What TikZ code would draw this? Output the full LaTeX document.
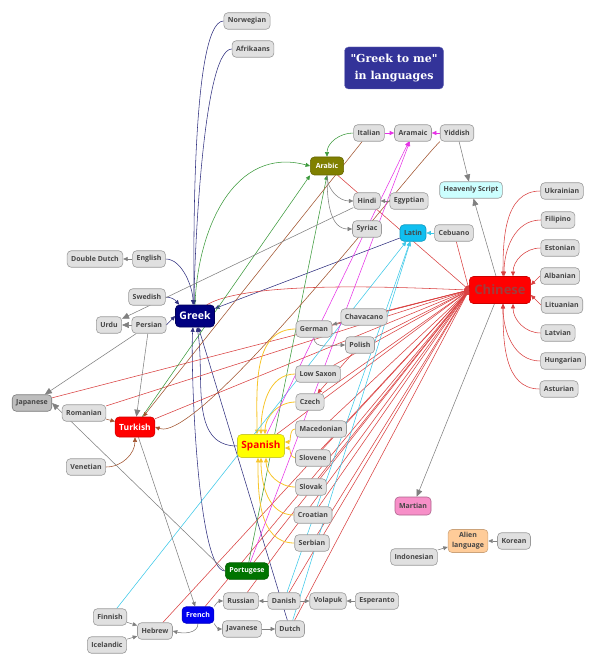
\documentclass[tikz,border=0pt]{standalone}
\usepackage{fontspec}
\setmainfont{Open Sans}
\newfontfamily\titlefont{DejaVu Serif}
\usetikzlibrary{arrows.meta,backgrounds,positioning}

\definecolor{langfill}{HTML}{E0E0E0}
\definecolor{langdraw}{HTML}{9A9A9A}
\definecolor{langtext}{HTML}{454545}
\definecolor{japfill}{HTML}{BDBDBD}
\definecolor{titlefill}{HTML}{333399}
\definecolor{greekfill}{HTML}{000080}
\definecolor{chinafill}{HTML}{FF0000}
\definecolor{chinatext}{HTML}{A03C3C}
\definecolor{spanfill}{HTML}{FFFF00}
\definecolor{arabfill}{HTML}{808000}
\definecolor{latinfill}{HTML}{11BFF0}
\definecolor{portfill}{HTML}{007400}
\definecolor{frenchfill}{HTML}{0000F0}
\definecolor{heavfill}{HTML}{CCFFFF}
\definecolor{marsfill}{HTML}{F78FC8}
\definecolor{alienfill}{HTML}{FFCC99}
\definecolor{navyline}{HTML}{30307F}
\definecolor{redline}{HTML}{D94040}
\definecolor{greenline}{HTML}{3C9A3C}
\definecolor{brownline}{HTML}{A0522D}
\definecolor{goldline}{HTML}{F7C52B}
\definecolor{cyanline}{HTML}{3CC8E8}
\definecolor{magline}{HTML}{E632E6}
\definecolor{greyline}{HTML}{808080}

\tikzset{
  lang/.style={draw=langdraw, fill=langfill, text=langtext, rounded corners=4pt,
    font=\bfseries\fontsize{7}{8.5}\selectfont, inner xsep=4pt, inner ysep=1pt,
    minimum height=16.5pt, line width=0.6pt},
  hub/.style={lang, text=white},
  titlebox/.style={draw=titlefill!70!white, fill=titlefill, text=white, rounded corners=4pt,
    font=\titlefont\bfseries\fontsize{11}{17}\selectfont, align=center,
    minimum width=99pt, minimum height=42pt, inner sep=2pt},
  link/.style={-{Triangle[length=4.5pt,width=4pt]}, line width=0.55pt},
  navylink/.style={link, draw=navyline},
  redlink/.style={link, draw=redline},
  greenlink/.style={link, draw=greenline},
  brownlink/.style={link, draw=brownline},
  goldlink/.style={link, draw=goldline, line width=0.8pt},
  cyanlink/.style={link, draw=cyanline},
  maglink/.style={link, draw=magline},
  greylink/.style={link, draw=greyline},
  bigtip/.style={-{Triangle[length=7pt,width=6pt]}}
}

\begin{document}
\begin{tikzpicture}[x=1pt, y=-1pt]
\useasboundingbox (0,0) rectangle (600,668);

% title
\node[titlebox] (ttl) at (394,68) {"Greek to me"\\in languages};

% main languages
\node[hub, fill=greekfill, draw=greekfill!70!black, font=\bfseries\fontsize{10.5}{12}\selectfont, minimum height=22pt] (greek) at (195,316) {Greek};
\node[hub, fill=chinafill, draw=chinafill!80!black, text=chinatext, font=\bfseries\fontsize{13}{15}\selectfont, minimum height=27pt, inner xsep=5pt] (china) at (500,290) {Chinese};
\node[hub, fill=spanfill, draw=spanfill!60!gray, text=red, font=\bfseries\fontsize{10}{12}\selectfont, minimum height=23pt] (span) at (261,446) {Spanish};
\node[hub, fill=chinafill, draw=chinafill!80!black, font=\bfseries\fontsize{8.5}{10}\selectfont, minimum height=20pt] (turk) at (135,427) {Turkish};
\node[hub, fill=arabfill, draw=arabfill!80!black, minimum height=18pt, inner xsep=5.5pt] (arab) at (327,166) {Arabic};
\node[lang, fill=latinfill, draw=latinfill!80!black, text=langtext] (latin) at (413,233) {Latin};
\node[hub, fill=portfill, draw=portfill!80!black] (port) at (247,571) {Portugese};
\node[hub, fill=frenchfill, draw=frenchfill!80!black] (french) at (198,615) {French};
\node[lang, fill=heavfill, draw=langdraw] (heav) at (471,190) {Heavenly Script};
\node[lang, fill=marsfill, draw=marsfill!70!black, minimum height=18pt] (mars) at (413,506) {Martian};
\node[lang, fill=alienfill, draw=alienfill!80!black, align=center, font=\bfseries\fontsize{7}{10}\selectfont, inner ysep=3pt] (alien) at (468,541) {Alien\\language};
\node[lang, fill=japfill, draw=langdraw!80!black] (jap) at (32,403) {Japanese};

% other languages
\node[lang] (norw) at (247,21) {Norwegian};
\node[lang] (afri) at (253,49) {Afrikaans};
\node[lang] (ital) at (369,133) {Italian};
\node[lang] (aram) at (413,133) {Aramaic};
\node[lang] (yidd) at (457,133) {Yiddish};
\node[lang] (ukr) at (562,191) {Ukrainian};
\node[lang] (hindi) at (367,201) {Hindi};
\node[lang] (egypt) at (409,201) {Egyptian};
\node[lang] (fili) at (558,220) {Filipino};
\node[lang] (syr) at (367,229) {Syriac};
\node[lang] (cebu) at (454,233) {Cebuano};
\node[lang] (esto) at (560,248) {Estonian};
\node[lang] (ddutch) at (95,259) {Double Dutch};
\node[lang] (engl) at (149,259) {English};
\node[lang] (alba) at (560,276) {Albanian};
\node[lang] (swed) at (147,297) {Swedish};
\node[lang] (urdu) at (109,325) {Urdu};
\node[lang] (pers) at (149,325) {Persian};
\node[lang] (litu) at (562,305) {Lituanian};
\node[lang] (chav) at (364,317) {Chavacano};
\node[lang] (germ) at (314,329) {German};
\node[lang] (pol) at (360,345) {Polish};
\node[lang] (latv) at (558,333) {Latvian};
\node[lang] (losax) at (318,374) {Low Saxon};
\node[lang] (hung) at (563,361) {Hungarian};
\node[lang] (astur) at (559,389) {Asturian};
\node[lang] (czech) at (310,402) {Czech};
\node[lang] (rom) at (84,413) {Romanian};
\node[lang] (mace) at (321,429) {Macedonian};
\node[lang] (vene) at (86,467) {Venetian};
\node[lang] (slvn) at (313,458) {Slovene};
\node[lang] (slvk) at (311,487) {Slovak};
\node[lang] (croat) at (313,515) {Croatian};
\node[lang] (korea) at (514,541) {Korean};
\node[lang] (serb) at (312,543) {Serbian};
\node[lang] (indo) at (414,557) {Indonesian};
\node[lang] (russ) at (241,601) {Russian};
\node[lang] (dan) at (284,601) {Danish};
\node[lang] (vola) at (328,601) {Volapuk};
\node[lang] (espe) at (377,601) {Esperanto};
\node[lang] (finn) at (110,617) {Finnish};
\node[lang] (javan) at (242,629) {Javanese};
\node[lang] (dutch) at (290,629) {Dutch};
\node[lang] (hebr) at (155,631) {Hebrew};
\node[lang] (icel) at (107,645) {Icelandic};

\begin{pgfonlayer}{background}
% into Greek
\draw[navylink] (norw.west) to[out=180,in=90,looseness=0.3] ([xshift=-1pt]greek.north);
\draw[navylink] (afri.west) to[out=180,in=90,looseness=0.3] ([xshift=-1pt]greek.north);
\draw[navylink] (engl.east) to[out=0,in=90,looseness=0.8] ([xshift=-2pt]greek.north);
\draw[navylink] (swed.east) to[out=0,in=130] ([xshift=4pt]greek.north west);
\draw[navylink] (pers.east) -- (greek.west);
\draw[navylink] (latin) -- (greek);
\draw[navylink] (span.west) to[out=180,in=-80] ([xshift=2pt]greek.south);
\draw[navylink] (port.west) to[out=180,in=-95,looseness=0.3] ([xshift=-2pt]greek.south);
\draw[navylink] (dutch) -- (greek);

% into Chinese
\draw[redlink] ([xshift=-8pt]greek.north east) to[out=30,in=178,looseness=0.5] (china.west);
\draw[redlink] (arab) -- (china.west);
\foreach \src in {cebu,jap,rom,turk,germ,chav,pol,losax,czech,mace,span,slvn,slvk,croat,serb,port,french,hebr,russ,dan,dutch}
  \draw[redlink] (\src) -- (china.west);
\draw[redlink] (ukr.west) to[out=180,in=90] ([xshift=3pt]china.north);
\draw[redlink] (fili.west) to[out=180,in=90] ([xshift=4pt]china.north);
\draw[redlink] (esto.west) to[out=180,in=90] ([xshift=13pt]china.north);
\draw[redlink] (alba.west) -- ([yshift=5pt]china.east);
\draw[redlink] (litu.west) -- ([yshift=-5pt]china.east);
\draw[redlink] (latv.west) to[out=180,in=-90] ([xshift=13pt]china.south);
\draw[redlink] (hung.west) to[out=180,in=-90] ([xshift=3pt]china.south);
\draw[redlink] (astur.west) to[out=180,in=-90] ([xshift=3pt]china.south);
\draw[redlink] (pol) -- (czech);

% into Arabic
\draw[greenlink] (greek.north) to[out=88,in=165,looseness=1.1] (arab.west);
\draw[greenlink] (ital.west) to[out=180,in=90] (arab.north);
\draw[greenlink] (turk) -- (arab.south west);
\draw[greenlink] (port) -- (arab.south);

% into Turkish
\draw[brownlink] (ital) -- (turk);
\draw[brownlink] (yidd.south west) to[out=-135,in=-20,looseness=0.3] (turk.east);
\draw[brownlink] (vene.east) to[out=0,in=-90] (turk.south);
\draw[brownlink] (rom) -- (turk);

% into Spanish
\draw[goldlink] (germ.west) to[out=180,in=90] ([xshift=-4pt]span.north);
\draw[goldlink] (losax.west) to[out=180,in=90] (span.north);
\draw[goldlink] (czech.west) to[out=180,in=90] ([xshift=4pt]span.north);
\draw[goldlink] (mace.west) to[out=180,in=0] ([yshift=4pt]span.east);
\draw[goldlink] (slvn.west) to[out=180,in=0] ([yshift=-2pt]span.east);
\draw[goldlink] (slvk.west) to[out=180,in=-90] ([xshift=5pt]span.south);
\draw[goldlink] (croat.west) to[out=180,in=-90] (span.south);
\draw[goldlink] (serb.west) to[out=180,in=-90] ([xshift=-3pt]span.south);

% into Latin
\draw[cyanlink] (cebu) -- (latin);
\draw[cyanlink] (finn) -- (latin);
\draw[cyanlink] (dan) -- (latin);
\draw[cyanlink] (dutch) -- (latin);

% into Aramaic
\draw[maglink] (ital) -- (aram);
\draw[maglink] (yidd) -- (aram);
\draw[maglink] (span) -- (aram);
\draw[maglink] (port) -- (aram);

% the rest
\draw[greylink] (engl) -- (ddutch);
\draw[greylink, bigtip] (pers) -- (urdu);
\draw[greylink, bigtip] (hindi) -- (urdu);
\draw[greylink, bigtip] (pers) -- (jap);
\draw[greylink, bigtip] (port.west) -- (jap.east);
\draw[greylink, bigtip] (pers) -- (turk);
\draw[greylink] (turk) -- (french);
\draw[greylink] (arab.south) to[out=-90,in=180] (hindi.west);
\draw[greylink] (arab.south) to[out=-90,in=180] (syr.west);
\draw[greylink] (egypt) -- (hindi);
\draw[greylink, bigtip] (yidd) -- (heav);
\draw[greylink, bigtip] (china) -- (heav);
\draw[greylink, bigtip] (china) -- (mars);
\draw[greylink] (chav) -- (germ);
\draw[greylink] (germ.south) to[out=-90,in=180] (pol.west);
\draw[greylink] (korea) -- (alien);
\draw[greylink] (indo) -- (alien);
\draw[greylink] (french.south) to[out=-90,in=-15] (hebr.east);
\draw[greylink] (finn) -- (hebr);
\draw[greylink] (icel) -- (hebr);
\draw[greylink] (french.north east) to[out=60,in=180] (russ.west);
\draw[greylink] (french.south east) to[out=-60,in=180] (javan.west);
\draw[greylink] (dan) -- (russ);
\draw[greylink] (dan) -- (vola);
\draw[greylink] (espe) -- (vola);
\draw[greylink] (javan) -- (dutch);
\end{pgfonlayer}
\end{tikzpicture}
\end{document}
